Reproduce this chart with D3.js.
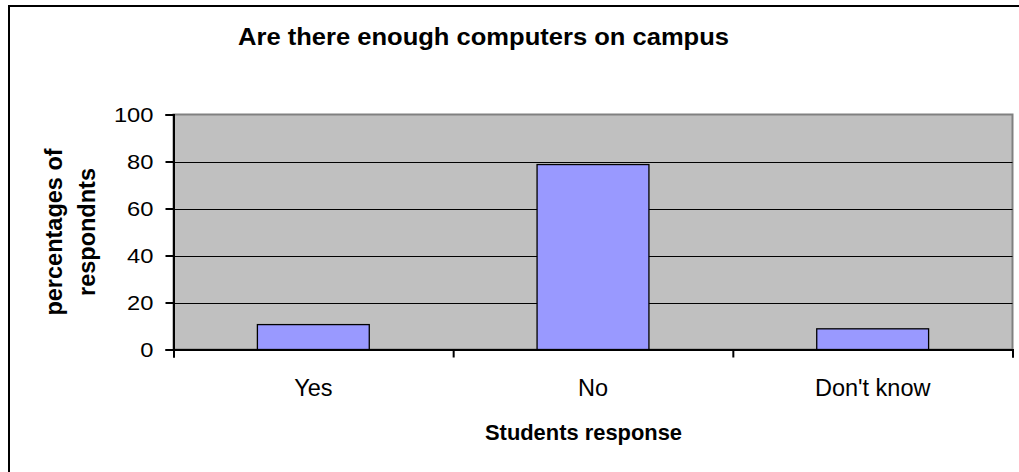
<!DOCTYPE html>
<html><head><meta charset="utf-8">
<script src="https://cdn.jsdelivr.net/npm/d3@7"></script>
<style>body{margin:0;background:#fff}svg{display:block}text{font-family:"Liberation Sans",Arial,sans-serif}</style>
</head><body>
<script>
const categories = ["Yes", "No", "Don't know"];
const values = [10.6, 78.7, 8.8];
const yTicks = [0, 20, 40, 60, 80, 100];
const title = "Are there enough computers on campus";
const xTitle = "Students response";
const yTitle = ["percentages of", "respondnts"];

const W = 1019, H = 472;
const svg = d3.select("body").append("svg").attr("width", W).attr("height", H);
svg.append("rect").attr("x", 9).attr("y", 6).attr("width", W + 10).attr("height", H + 10)
  .attr("fill", "#fff").attr("stroke", "#000").attr("stroke-width", 2);

const L = 173.5, R = 1012.5, T = 114.5, B = 349.5;
const x = d3.scaleBand().domain(categories).range([L, R]).paddingInner(0).paddingOuter(0);
const y = d3.scaleLinear().domain([0, 100]).range([B, T]);

svg.append("rect").attr("x", L).attr("y", T).attr("width", R - L).attr("height", B - T)
  .attr("fill", "#C0C0C0").attr("stroke", "#808080").attr("stroke-width", 2);

svg.append("g").selectAll("line").data(yTicks.filter(d => d > 0 && d < 100)).join("line")
  .attr("x1", L).attr("x2", R).attr("y1", d => Math.round(y(d)) + 0.5).attr("y2", d => Math.round(y(d)) + 0.5)
  .attr("stroke", "#000").attr("stroke-width", 1);

const bw = x.bandwidth() * 0.4;
svg.append("g").selectAll("rect").data(values).join("rect")
  .attr("x", (d, i) => x(categories[i]) + (x.bandwidth() - bw) / 2)
  .attr("y", d => y(d)).attr("width", bw).attr("height", d => B - y(d))
  .attr("fill", "#9999FF").attr("stroke", "#000").attr("stroke-width", 1.3);

// y axis
const yAxis = d3.axisLeft(y).tickValues(yTicks).tickSize(8).tickPadding(12);
const gy = svg.append("g").attr("transform", `translate(${L},0)`).call(yAxis);
gy.select(".domain").attr("stroke", "#000").attr("stroke-width", 2);
gy.selectAll(".tick line").attr("stroke", "#000").attr("stroke-width", 2);
gy.selectAll("text").attr("font-size", 21).attr("fill", "#000")
  .attr("font-family", '"Liberation Sans",Arial,sans-serif')
  .attr("x", 0).attr("transform", "translate(-20,0) scale(1.13,1)");

// x axis
const xPos = d3.scaleLinear().domain([0, categories.length]).range([L, R]);
const xAxis = d3.axisBottom(xPos).tickValues(d3.range(categories.length + 1)).tickSize(8).tickFormat("");
const gx = svg.append("g").attr("transform", `translate(0,${B})`).call(xAxis);
gx.select(".domain").attr("stroke", "#000").attr("stroke-width", 2);
gx.selectAll(".tick line").attr("stroke", "#000").attr("stroke-width", 2);

svg.append("g").selectAll("text").data(categories).join("text")
  .attr("x", d => x(d) + x.bandwidth() / 2).attr("y", 396)
  .attr("text-anchor", "middle").attr("font-size", 23.5).text(d => d);

svg.append("text").attr("x", 238).attr("y", 45)
  .attr("font-size", 23.5).attr("font-weight", "bold")
  .attr("textLength", 491).attr("lengthAdjust", "spacingAndGlyphs").text(title);
svg.append("text").attr("x", 485).attr("y", 440)
  .attr("font-size", 22).attr("font-weight", "bold")
  .attr("textLength", 197).attr("lengthAdjust", "spacingAndGlyphs").text(xTitle);

const yt = svg.append("text").attr("transform", "translate(0,232) rotate(-90)")
  .attr("text-anchor", "middle").attr("font-size", 23.5).attr("font-weight", "bold");
yTitle.forEach((t, i) => yt.append("tspan").attr("x", 0).attr("y", 62 + i * 33).text(t));
</script>
</body></html>
